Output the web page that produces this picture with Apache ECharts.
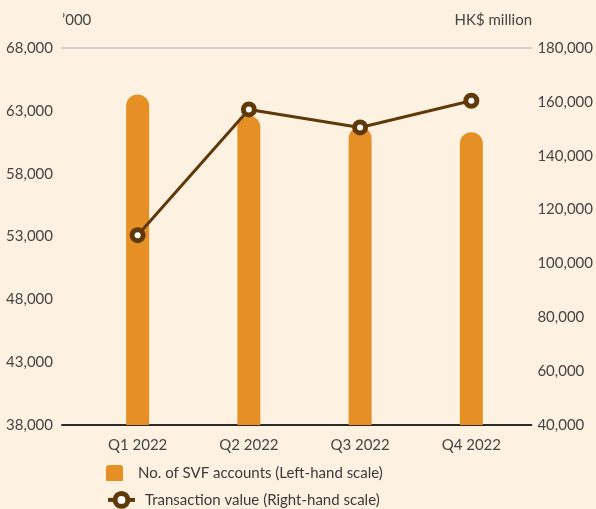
<!DOCTYPE html>
<html>
<head>
<meta charset="utf-8">
<script src="https://cdn.jsdelivr.net/npm/echarts@6/dist/echarts.min.js"></script>
<style>
  html, body { margin: 0; padding: 0; background: #fdf1e2; }
  #chart { width: 596px; height: 509px; }
</style>
</head>
<body>
<div id="chart"></div>
<script>
// data
const categories = ['Q1 2022', 'Q2 2022', 'Q3 2022', 'Q4 2022']
const svfAccounts = [64300, 62600, 61700, 61300]        // '000, left-hand scale
const transactionValue = [110500, 157200, 150500, 160400] // HK$ million, right-hand scale

const font = 'Lato, "Open Sans", sans-serif'
const textColor = '#454545'
const brown = '#5f3a08'
const xIdx = categories.map((c, i) => i)
const barName = 'No. of SVF accounts (Left-hand scale)'
const lineName = 'Transaction value (Right-hand scale)'

const chart = echarts.init(document.getElementById('chart'))

const legendText = { color: '#3a3a3a', fontSize: 15, fontFamily: font, lineHeight: 16, padding: [0, 0, 0, 5] }

chart.setOption({
  backgroundColor: '#fdf1e2',
  textStyle: { fontFamily: font },
  grid: { left: 62, right: 64, top: 48, bottom: 84 },
  // axis titles
  graphic: [
    { type: 'text', left: 62, top: 13, style: { text: '’000', fill: textColor, font: '15px ' + font } },
    { type: 'text', right: 64, top: 13, style: { text: 'HK$ million', fill: textColor, font: '15px ' + font } }
  ],
  legend: [
    {
      left: 106, top: 465, padding: 0,
      itemWidth: 27, itemHeight: 16,
      textStyle: legendText,
      data: [{ name: barName, icon: 'path://M3,0 L13,0 Q16,0 16,3 L16,15 L0,15 L0,3 Q0,0 3,0 Z' }]
    },
    {
      left: 106, top: 491, padding: 0,
      itemWidth: 27, itemHeight: 16,
      textStyle: legendText,
      data: [{
        name: lineName,
        lineStyle: { width: 4, color: brown },
        itemStyle: { color: '#ffffff', borderColor: brown, borderWidth: 5 }
      }]
    }
  ],
  xAxis: [
    {
      type: 'value',
      min: -0.68,
      max: 3.54,
      axisLine: { show: true, lineStyle: { color: '#2b2b2b', width: 2 } },
      axisTick: { show: false },
      splitLine: { show: false },
      axisLabel: {
        customValues: xIdx,
        formatter: v => categories[Math.round(v)],
        color: textColor,
        fontSize: 15,
        margin: 13
      }
    },
    {
      type: 'value',
      position: 'top',
      min: -0.68,
      max: 3.54,
      axisLine: { show: true, lineStyle: { color: '#d3d1ce', width: 2 } },
      axisTick: { show: false },
      axisLabel: { show: false },
      splitLine: { show: false }
    }
  ],
  yAxis: [
    {
      type: 'value',
      min: 38000,
      max: 68000,
      interval: 5000,
      axisLine: { show: false },
      axisTick: { show: false },
      splitLine: { show: false },
      axisLabel: { color: textColor, fontSize: 15, margin: 9, formatter: v => v.toLocaleString('en-US') }
    },
    {
      type: 'value',
      min: 40000,
      max: 180000,
      interval: 20000,
      axisLine: { show: false },
      axisTick: { show: false },
      splitLine: { show: false },
      axisLabel: { color: textColor, fontSize: 15, margin: 6, formatter: v => v.toLocaleString('en-US') }
    }
  ],
  series: [
    {
      name: barName,
      type: 'bar',
      xAxisIndex: 0,
      yAxisIndex: 0,
      barWidth: 23,
      itemStyle: { color: '#e58f25', borderRadius: [12, 12, 0, 0] },
      data: svfAccounts.map((v, i) => [i, v])
    },
    {
      name: lineName,
      type: 'line',
      xAxisIndex: 0,
      yAxisIndex: 1,
      symbol: 'circle',
      symbolSize: 11,
      lineStyle: { color: brown, width: 3 },
      itemStyle: { color: '#ffffff', borderColor: brown, borderWidth: 5 },
      data: transactionValue.map((v, i) => [i, v])
    }
  ]
})
</script>
</body>
</html>
